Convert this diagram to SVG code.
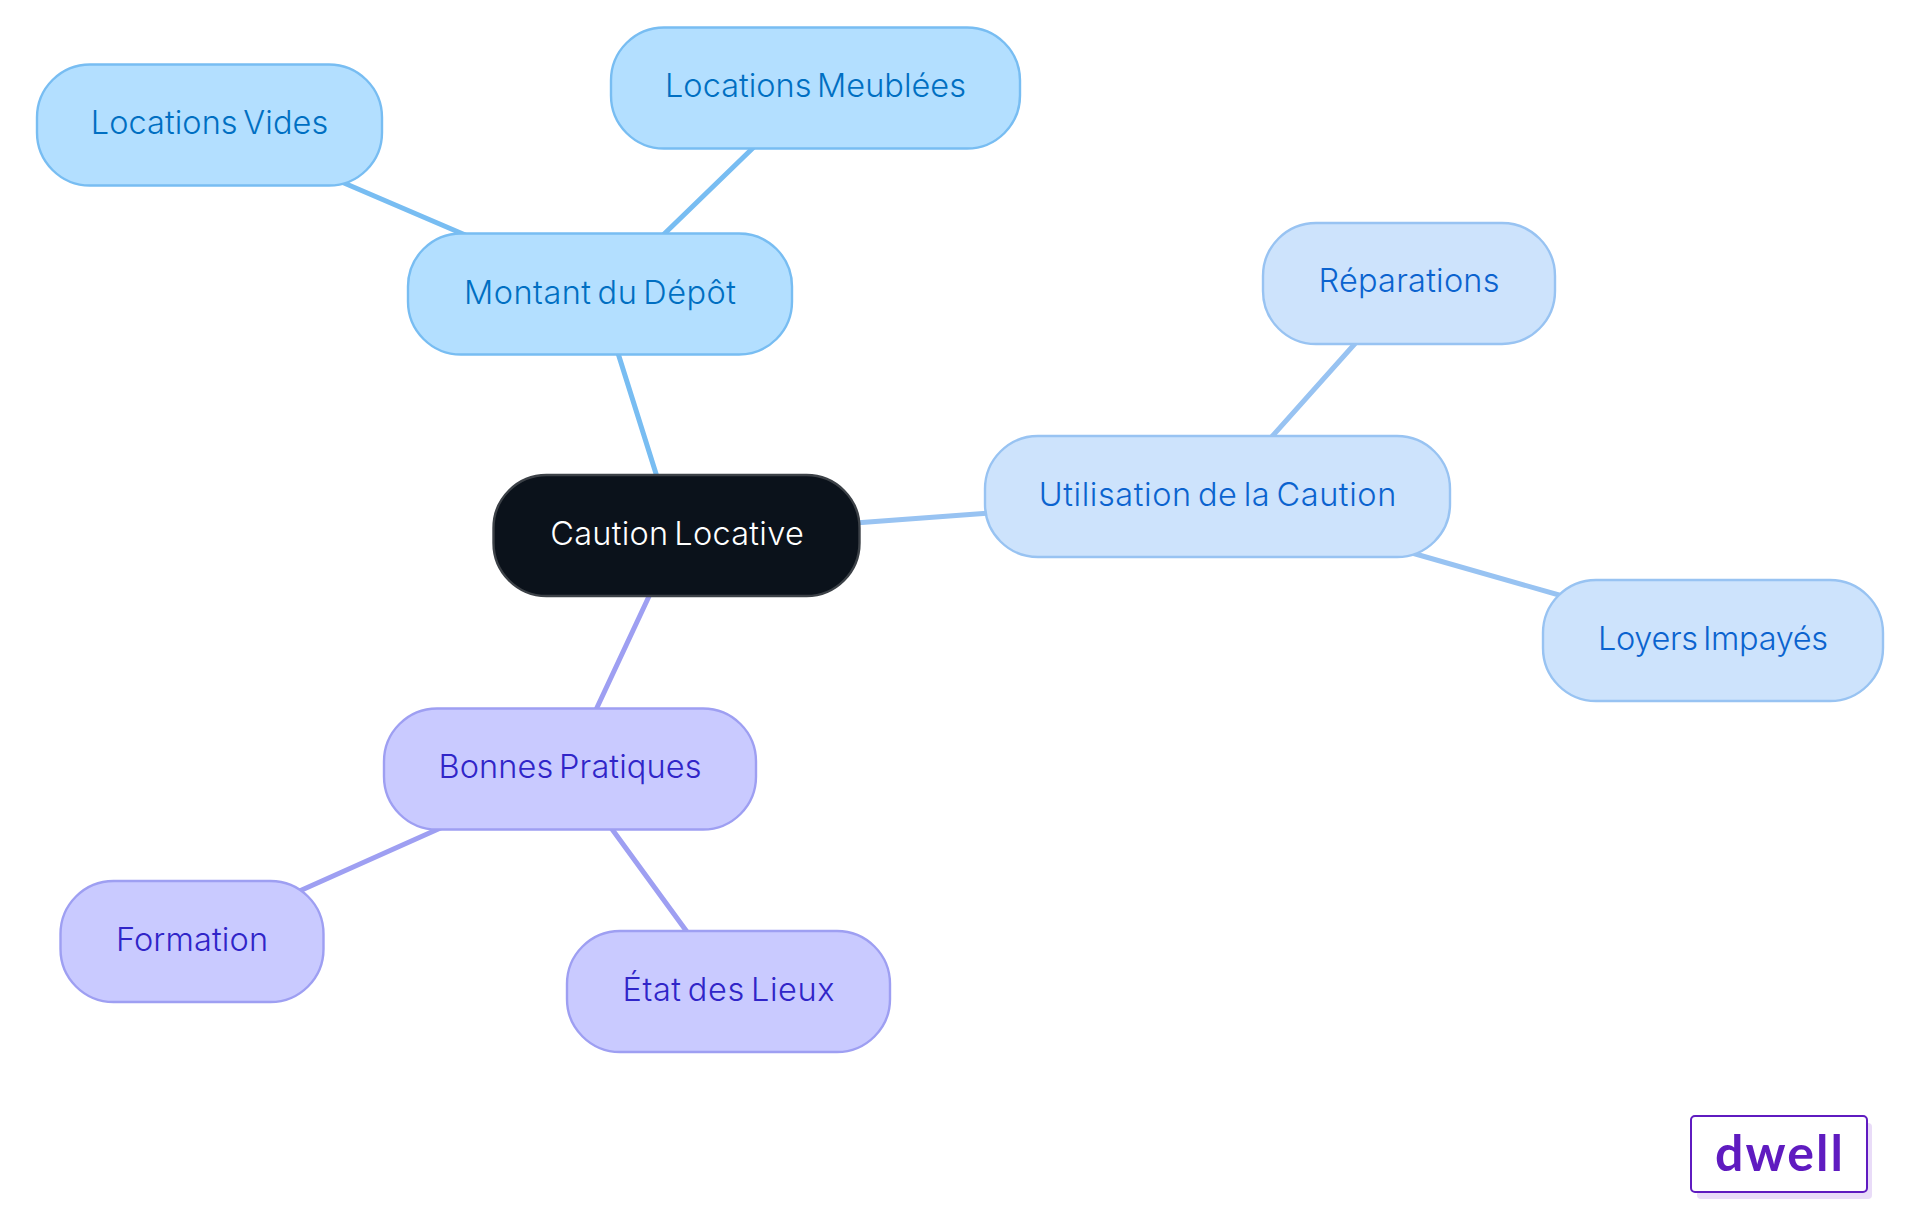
<svg xmlns="http://www.w3.org/2000/svg" width="1920" height="1215" viewBox="0 0 1920 1215">
<style>
.n{stroke-width:2.4}
.t{font-family:Inter,"Liberation Sans",sans-serif;font-size:32.5px;text-anchor:middle;font-weight:300;word-spacing:-3.5px}
.c{fill:none;stroke-width:5}
.a rect{fill:#b3dfff;stroke:#78bdf2}.a text{fill:#006fc2}
.b rect{fill:#cde3fc;stroke:#98c3f2}.b text{fill:#0b63cf}
.d rect{fill:#c9caff;stroke:#9e9ff2}.d text{fill:#3025c8}
</style>
<rect width="1920" height="1215" fill="#fff"/>
<g id="connectors">
<path class="c" stroke="#78bdf2" d="M658 480L617 350M660 238L756 145M470 237L337 180"/>
<path class="c" stroke="#98c3f2" d="M855 523L990 513M1268 441L1360 338M1405 551L1566 597"/>
<path class="c" stroke="#9e9ff2" d="M651 592L594 714M445 826L295 893M609 825L690 936"/>
</g>
<g id="root"><rect x="493.500" y="475" width="366" height="121" rx="53" fill="#0b121b" stroke="#3c4147" stroke-width="2.4"/><text class="t" x="677" y="545" fill="#fff" textLength="253.500">Caution Locative</text></g>
<g id="montant" class="a"><rect class="n" x="408" y="233.500" width="384" height="121" rx="53"/><text class="t" x="600" y="304" textLength="272">Montant du Dépôt</text></g>
<g id="vides" class="a"><rect class="n" x="37" y="64.500" width="345" height="121" rx="53"/><text class="t" x="209.500" y="134" textLength="237.500">Locations Vides</text></g>
<g id="meublees" class="a"><rect class="n" x="611" y="27.500" width="409" height="121" rx="53"/><text class="t" x="815.500" y="97" textLength="301">Locations Meublées</text></g>
<g id="utilisation" class="b"><rect class="n" x="985" y="436" width="465" height="121" rx="53"/><text class="t" x="1217.500" y="506" textLength="357.500">Utilisation de la Caution</text></g>
<g id="reparations" class="b"><rect class="n" x="1263" y="223" width="292" height="121" rx="53"/><text class="t" x="1409" y="292" textLength="181">Réparations</text></g>
<g id="loyers" class="b"><rect class="n" x="1543" y="580" width="340" height="121" rx="53"/><text class="t" x="1713" y="650" textLength="230">Loyers Impayés</text></g>
<g id="bonnes" class="d"><rect class="n" x="384" y="708.500" width="372" height="121" rx="53"/><text class="t" x="570" y="778" textLength="263">Bonnes Pratiques</text></g>
<g id="formation" class="d"><rect class="n" x="60.500" y="881" width="263" height="121" rx="53"/><text class="t" x="192" y="951" textLength="152">Formation</text></g>
<g id="etat" class="d"><rect class="n" x="567" y="931" width="323" height="121" rx="53"/><text class="t" x="728.500" y="1001" textLength="212">État des Lieux</text></g>
<g id="logo"><rect x="1697" y="1123" width="175" height="76" rx="4" fill="#e9dcf8"/><rect x="1691" y="1116" width="176" height="76" rx="4" fill="#fff" stroke="#5f1bc0" stroke-width="2"/><text x="1779" y="1171" font-family="Lato,'Liberation Sans',sans-serif" font-weight="700" font-size="50" text-anchor="middle" textLength="128" fill="#5f1bc0">dwell</text></g>
</svg>
